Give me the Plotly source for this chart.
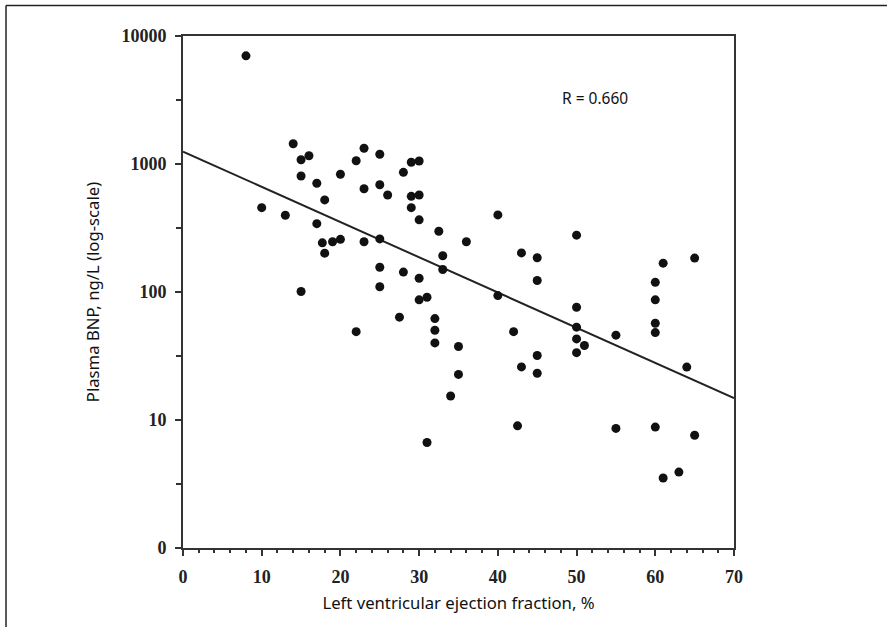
import plotly.graph_objects as go

# Left ventricular ejection fraction (%) and plasma BNP (ng/L)
lvef = [8, 10, 13, 14, 15, 16, 15, 17, 20, 23, 22, 25, 25, 23, 18, 17, 17.7, 19, 20, 23,
        25, 18, 25, 25, 15, 22, 29, 30, 28, 26, 29, 30, 29, 30, 32.5, 36, 40, 33, 33, 28,
        30, 43, 45, 45, 40, 31, 30, 27.5, 32, 32, 32, 35, 35, 34, 31, 42, 43, 45, 45, 42.5,
        50, 61, 65, 60, 60, 60, 60, 50, 50, 50, 51, 50, 55, 64, 55, 60, 65, 63, 61]
bnp = [7000, 456, 398, 1440, 1080, 1160, 806, 707, 831, 1327, 1061, 1191, 689, 641, 524,
       342, 242, 247, 258, 247, 260, 201, 156, 110, 101, 49, 1031, 1055, 861, 573, 559, 573,
       456, 366, 298, 247, 400, 192, 150, 143, 128, 202, 185, 123, 93.7, 91, 86.8, 63.6, 62,
       50.3, 40, 37.5, 22.7, 15.4, 6.67, 49, 26, 31.9, 23.2, 9.0, 278, 168, 184, 119, 86.8,
       57, 48.2, 76, 53.1, 43, 38.2, 33.6, 46, 25.9, 8.6, 8.8, 7.6, 3.92, 3.52]

# Regression line end points (log-linear fit)
fit_x = [0, 70]
fit_y = [1250, 14.8]

y_tickvals = [1, 10, 100, 1000, 10000]
y_ticktext = ["0", "10", "100", "1000", "10000"]
y_minor = [3.162, 31.62, 316.2, 3162]
x_tickvals = [0, 10, 20, 30, 40, 50, 60, 70]

axis_col = "#333333"
tick_font = dict(family="Liberation Serif", size=18, color="#222222", weight="bold")
title_font = dict(family="Noto Sans", size=16.7, color="#111111")

fig = go.Figure()
fig.add_trace(go.Scatter(x=fit_x, y=fit_y, mode="lines",
                         line=dict(color="#222222", width=2), hoverinfo="skip"))
fig.add_trace(go.Scatter(x=lvef, y=bnp, mode="markers",
                         marker=dict(color="#111111", size=9, line=dict(width=0))))

fig.update_layout(
    width=887, height=627,
    margin=dict(l=183, r=153, t=36, b=79),
    paper_bgcolor="white", plot_bgcolor="white",
    showlegend=False,
    xaxis=dict(
        range=[0, 70], tickvals=x_tickvals, ticks="outside", ticklen=6, tickwidth=2,
        tickcolor=axis_col, showline=True, linecolor=axis_col, linewidth=2, mirror=True,
        showgrid=False, zeroline=False, tickfont=tick_font, ticklabelstandoff=5,
        minor=dict(dtick=2, ticks="outside", ticklen=3, tickwidth=2, tickcolor=axis_col,
                   showgrid=False),
        title=dict(text="Left ventricular ejection fraction, %", font=title_font, standoff=12),
    ),
    yaxis=dict(
        type="log", range=[0, 4], tickvals=y_tickvals, ticktext=y_ticktext,
        ticks="outside", ticklen=6, tickwidth=2, tickcolor=axis_col,
        showline=True, linecolor=axis_col, linewidth=2, mirror=True,
        showgrid=False, zeroline=False, tickfont=tick_font, ticklabelstandoff=5,
        minor=dict(tickvals=y_minor, ticks="outside", ticklen=5, tickwidth=2,
                   tickcolor=axis_col, showgrid=False),
        title=dict(text="Plasma BNP, ng/L (log-scale)", font=title_font, standoff=18),
    ),
    annotations=[dict(text="R = 0.660", xref="paper", yref="paper", x=0.685, y=0.879,
                      xanchor="left", yanchor="middle", showarrow=False,
                      font=dict(family="Noto Sans", size=15.5, color="#111111"))],
    shapes=[
        dict(type="line", xref="paper", yref="paper", x0=-0.3212, x1=-0.3212,
             y0=-0.2, y1=1.0596, line=dict(color="#222222", width=1.5)),
        dict(type="line", xref="paper", yref="paper", x0=-0.3212, x1=1.3,
             y0=1.0596, y1=1.0596, line=dict(color="#222222", width=1.5)),
    ],
)

fig.write_html("out.html")
